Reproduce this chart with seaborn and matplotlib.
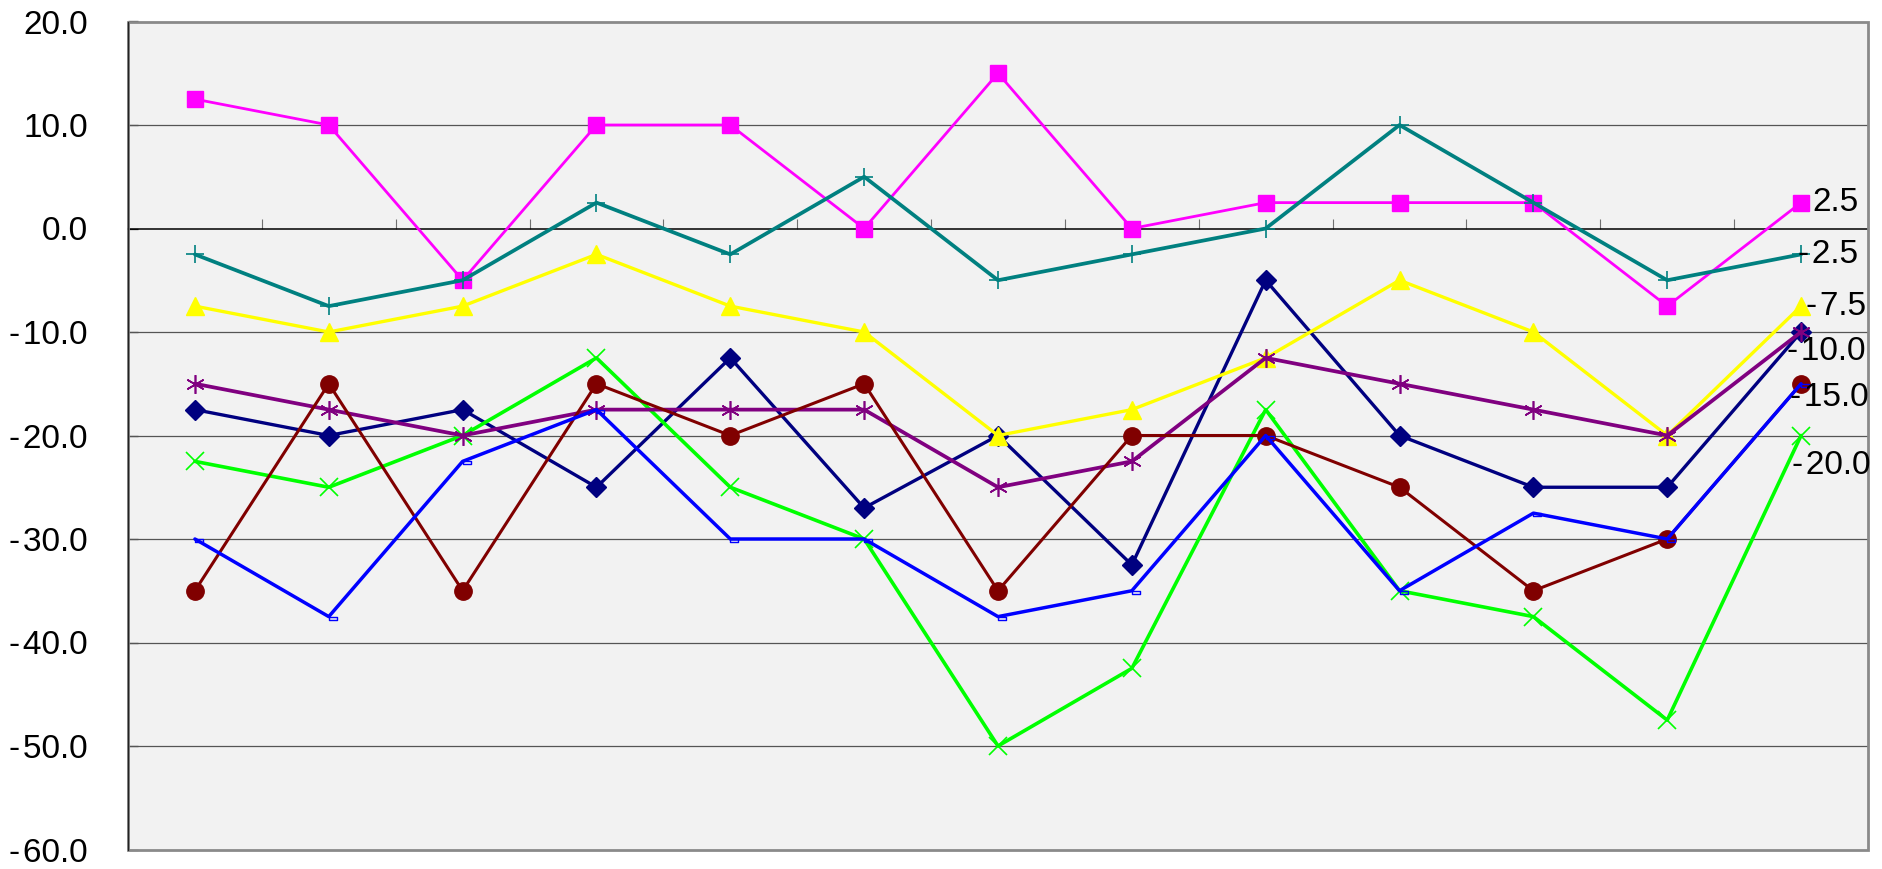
import matplotlib
matplotlib.use("Agg")
import matplotlib.pyplot as plt
import seaborn as sns
import numpy as np
import pandas as pd
from matplotlib.patches import Rectangle
from matplotlib.ticker import FixedLocator, FuncFormatter
import matplotlib.transforms as mtransforms

# ---------------- data ----------------
categories = list(range(13))
navy = [-17.5, -20, -17.5, -25, -12.5, -27, -20, -32.5, -5, -20, -25, -25, -10]
magenta = [12.5, 10, -5, 10, 10, 0, 15, 0, 2.5, 2.5, 2.5, -7.5, 2.5]
yellow = [-7.5, -10, -7.5, -2.5, -7.5, -10, -20, -17.5, -12.5, -5, -10, -20, -7.5]
green = [-22.5, -25, -20, -12.5, -25, -30, -50, -42.5, -17.5, -35, -37.5, -47.5, -20]
purple = [-15, -17.5, -20, -17.5, -17.5, -17.5, -25, -22.5, -12.5, -15, -17.5, -20, -10]
darkred = [-35, -15, -35, -15, -20, -15, -35, -20, -20, -25, -35, -30, -15]
teal = [-2.5, -7.5, -5, 2.5, -2.5, 5, -5, -2.5, 0, 10, 2.5, -5, -2.5]
blue = [-30, -37.5, -22.5, -17.5, -30, -30, -37.5, -35, -20, -35, -27.5, -30, -15]
y_ticks = [-60, -50, -40, -30, -20, -10, 0, 10, 20]

# ---------------- styles ----------------
dash_marker = [(0, 0), (1, 0), (1, -0.43), (0, -0.43), (0, 0)]
series = [
    # values, colour, marker, markersize, linewidth, mew, filled
    (navy, "#000080", "D", 10.5, 2.4, 1.0, True),
    (magenta, "#FF00FF", "s", 11.5, 2.0, 1.0, True),
    (yellow, "#FFFF00", "^", 13, 2.4, 1.0, True),
    (green, "#00FF00", "x", 12.5, 2.6, 1.2, True),
    (purple, "#800080", (6, 2, 0), 13.5, 2.7, 1.2, True),
    (darkred, "#800000", "o", 12.5, 2.2, 1.0, True),
    (teal, "#008080", "+", 13.5, 2.7, 1.2, True),
    (blue, "#0000FF", dash_marker, 11, 2.5, 1.0, False),
]

# labels: (series values, dx px, dy px (down))
labels = [
    (magenta, 11, 0),
    (teal, -3, 0),
    (yellow, 5, 0),
    (purple, -14, 20),
    (darkred, -11, 14),
    (green, -9, 30),
]


def fmt(v):
    s = f"{abs(v):.1f}"
    return ("-\u200a" + s) if v < 0 else s


sns.set_style("white")
plt.rcParams["font.family"] = ["Liberation Sans", "DejaVu Sans"]
plt.rcParams["axes.unicode_minus"] = False

W, H = 1883, 869
FS = 24
fig = plt.figure(figsize=(W / 100, H / 100), dpi=100)
fig.patch.set_facecolor("white")
ax = fig.add_axes([128 / W, 19.5 / H, (1868 - 128) / W, (849.5 - 21.5) / H])
ax.set_facecolor("#F2F2F2")

ax.set_xlim(-0.5, 12.5)
ax.set_ylim(-60, 20)

# grid
for v in y_ticks:
    if v not in (0, -60, 20):
        ax.axhline(v, color="#555555", lw=0.9, zorder=1)

# lines
for vals, col, mk, ms, lw, mew, filled in series:
    sns.lineplot(x=categories, y=vals, ax=ax, color=col, marker=mk,
                 markersize=ms, linewidth=lw, markeredgecolor=col,
                 markerfacecolor=col if filled else "none",
                 markeredgewidth=mew, zorder=3, legend=False)

# spines / axes
for s in ["top", "right", "left"]:
    ax.spines[s].set_visible(False)
ax.spines["bottom"].set_position(("data", 0))
ax.spines["bottom"].set_color("black")
ax.spines["bottom"].set_linewidth(1.1)
ax.spines["bottom"].set_zorder(2)

ax.add_patch(Rectangle((0, 0), 1, 1, transform=ax.transAxes, fill=False,
                       edgecolor="#8a8a8a", lw=2.0, clip_on=False, zorder=4))
ax.plot([0, 0], [0, 1], transform=ax.transAxes, color="#222222", lw=1.0,
        clip_on=False, zorder=5)

ax.xaxis.set_major_locator(FixedLocator(np.arange(-0.5, 13.0, 1.0)))
ax.tick_params(axis="x", direction="in", length=7.5, width=0.8,
               color="#707070", labelbottom=False, bottom=True)

ax.yaxis.set_major_locator(FixedLocator(y_ticks))
ax.yaxis.set_major_formatter(FuncFormatter(lambda v, p: fmt(v)))
ax.tick_params(axis="y", direction="in", length=7.5, width=0.9,
               color="#222222", labelsize=FS, pad=29, left=True)
for t in ax.get_yticklabels():
    t.set_color("black")

# end labels
for vals, dx, dy in labels:
    off = mtransforms.offset_copy(ax.transData, fig=fig, x=dx * 0.72,
                                  y=-dy * 0.72, units="points")
    ax.text(categories[-1], vals[-1], fmt(vals[-1]), transform=off,
            ha="left", va="center", fontsize=FS, color="black", zorder=6,
            clip_on=False)

ax.set_xlabel("")
ax.set_ylabel("")
fig.savefig("out.png", dpi=100, facecolor="white")
